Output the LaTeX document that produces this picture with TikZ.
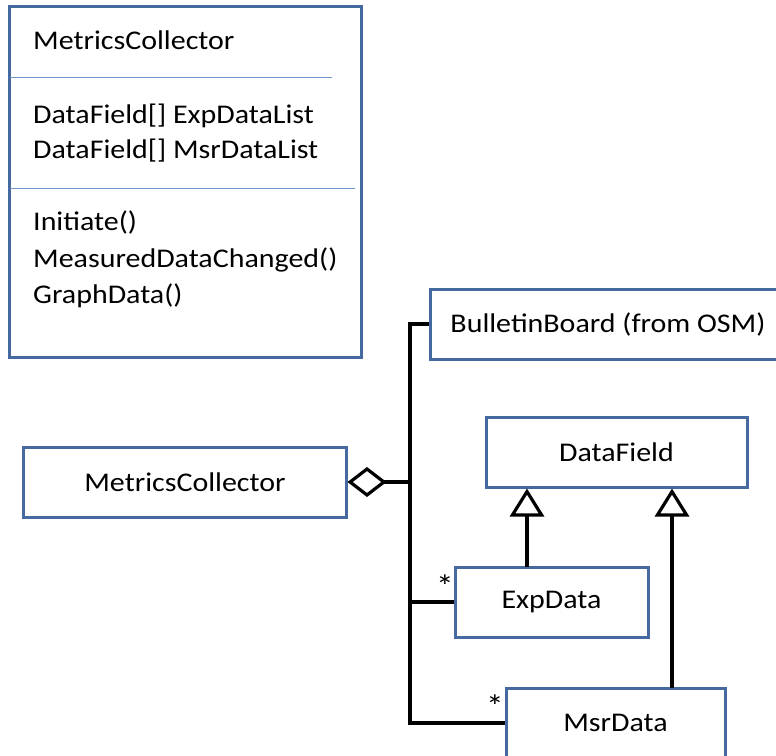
\documentclass[tikz,border=0pt]{standalone}
\usepackage{fontspec}
\setmainfont{Carlito}[FakeStretch=1.11]
\usetikzlibrary{arrows.meta}
\definecolor{boxblue}{RGB}{70,105,160}
\definecolor{divblue}{RGB}{110,150,200}
\begin{document}
\begin{tikzpicture}[x=1bp,y=-1bp,
  box/.style={draw=boxblue,line width=3bp,fill=white,inner sep=0pt,
    minimum height=70bp,font=\fontsize{27bp}{32bp}\selectfont},
  txt/.style={inner sep=0pt,anchor=base west,font=\fontsize{27bp}{32bp}\selectfont},
  conn/.style={line width=3.2bp,black},
  divider/.style={draw=divblue,line width=1bp},
  mult/.style={inner sep=0pt,font=\fontsize{32bp}{32bp}\selectfont}]
\useasboundingbox (0,0) rectangle (776,756);

% class box with compartments
\node[box,minimum width=351bp,minimum height=350bp] (cls) at (185.5,182) {};
\draw[divider] (10,77) -- (332,77);
\draw[divider] (10,188) -- (355,188);
\node[txt] (t1) at (33,50) {MetricsCollector};
\node[txt] (t2) at (33,123) {DataField[] ExpDataList};
\node[txt] (t3) at (33,158) {DataField[] MsrDataList};
\node[txt] (t4) at (33,230) {Initiate()};
\node[txt] (t5) at (33,267) {MeasuredDataChanged()};
\node[txt] (t6) at (33,303) {GraphData()};

% diagram boxes
\node[box,minimum width=356bp] (bb) at (608,324) {BulletinBoard (from OSM)};
\node[box,minimum width=261bp] (df) at (616.5,452) {DataField};
\node[box,minimum width=322bp] (mcs) at (185,482) {MetricsCollector};
\node[box,minimum width=193bp] (exp) at (551.5,602) {ExpData};
\node[box,minimum width=219bp] (msr) at (615.5,723) {MsrData};

% aggregation
\coordinate (jn) at (410,482);
\draw[conn,{Diamond[open,length=39bp,width=30bp]}-] (mcs.east) -- (jn);
\draw[conn] (bb.west) -- (bb.west -| jn) |- (msr.west);
\draw[conn] (exp.west) -- (exp.west -| jn);
\node[mult] (s1) at (445,586) {*};
\node[mult] (s2) at (495,706) {*};

% generalisation
\coordinate (g1) at (527,567);
\coordinate (g2) at (672,688);
\draw[conn,-{Triangle[open,length=28bp,width=34bp]}] (g1) -- (g1 |- df.south);
\draw[conn,-{Triangle[open,length=28bp,width=34bp]}] (g2) -- (g2 |- df.south);
\end{tikzpicture}
\end{document}
